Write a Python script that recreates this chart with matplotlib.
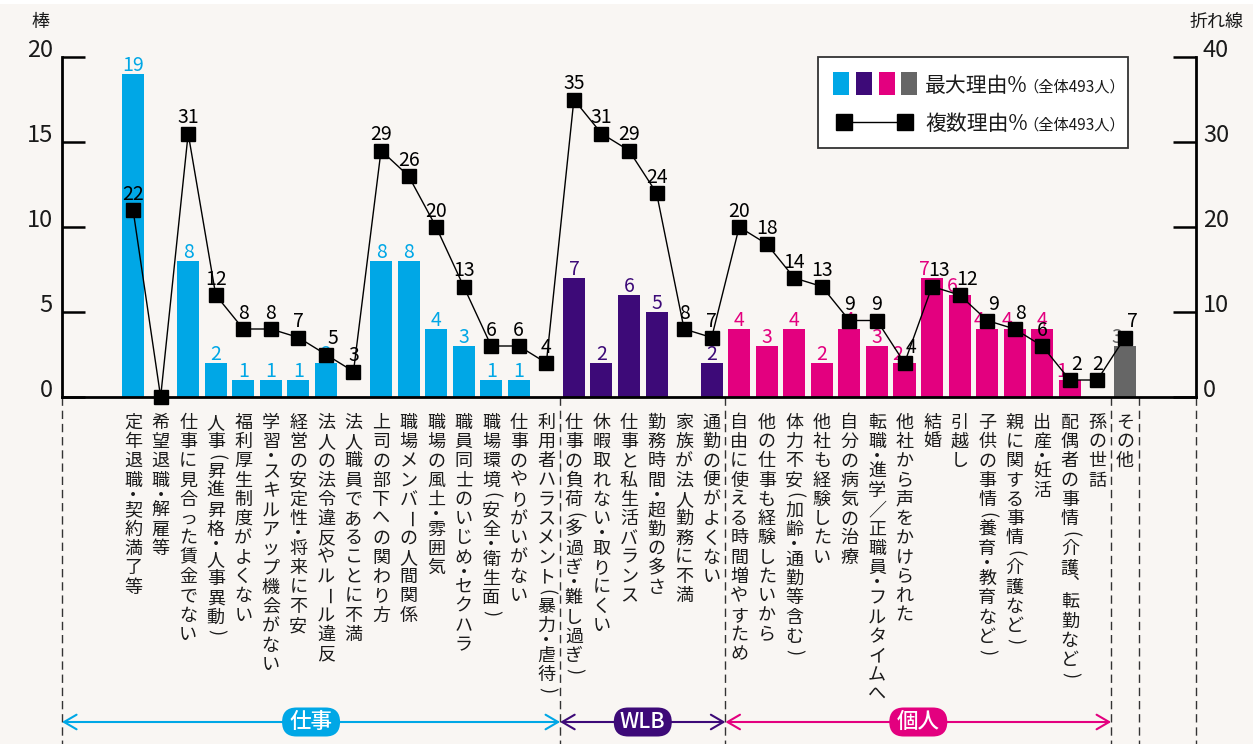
import matplotlib
matplotlib.use('Agg')
import matplotlib.pyplot as plt
from matplotlib.patches import Rectangle, FancyBboxPatch
from matplotlib.lines import Line2D
import matplotlib.transforms as mtransforms

plt.rcParams['font.family'] = ['Noto Sans CJK JP', 'DejaVu Sans']

# ---------------- data ----------------
categories = [
    '定年退職・契約満了等', '希望退職・解雇等', '仕事に見合った賃金でない', '人事（昇進昇格・人事異動）',
    '福利厚生制度がよくない', '学習・スキルアップ機会がない', '経営の安定性・将来に不安',
    '法人の法令違反やルール違反', '法人職員であることに不満', '上司の部下への関わり方',
    '職場メンバーの人間関係', '職場の風土・雰囲気', '職員同士のいじめ・セクハラ',
    '職場環境（安全・衛生面）', '仕事のやりがいがない', '利用者ハラスメント（暴力・虐待）',
    '仕事の負荷（多過ぎ・難し過ぎ）', '休暇取れない・取りにくい', '仕事と私生活バランス',
    '勤務時間・超勤の多さ', '家族が法人勤務に不満', '通勤の便がよくない',
    '自由に使える時間増やすため', '他の仕事も経験したいから', '体力不安（加齢・通勤等含む）',
    '他社も経験したい', '自分の病気の治療', '転職・進学／正職員・フルタイムへ',
    '他社から声をかけられた', '結婚', '引越し', '子供の事情（養育・教育など）',
    '親に関する事情（介護など）', '出産・妊活', '配偶者の事情（介護、転勤など）', '孫の世話',
    'その他',
]
main_pct = [19, 0, 8, 2, 1, 1, 1, 2, 0, 8, 8, 4, 3, 1, 1, 0,
            7, 2, 6, 5, 0, 2,
            4, 3, 4, 2, 4, 3, 2, 7, 6, 4, 4, 4, 1, 0,
            3]
multi_pct = [22, 0, 31, 12, 8, 8, 7, 5, 3, 29, 26, 20, 13, 6, 6, 4,
             35, 31, 29, 24, 8, 7,
             20, 18, 14, 13, 9, 9, 4, 13, 12, 9, 8, 6, 2, 2,
             7]
group_of = ['仕事'] * 16 + ['WLB'] * 6 + ['個人'] * 14 + ['その他']
group_colors = {'仕事': '#00a7e6', 'WLB': '#3d0a78', '個人': '#e3007f', 'その他': '#666666'}
arrow_groups = ['仕事', 'WLB', '個人']
left_ticks = [0, 5, 10, 15, 20]
right_ticks = [0, 10, 20, 30, 40]
legend_main = '最大理由%'
legend_multi = '複数理由%'
legend_note = '（全体493人）'

# label nudges (pixels) to keep bar / line labels apart, as in the original
bar_label_dx = {28: -7, 29: -8, 30: -7, 31: -8, 32: -8, 34: -8, 36: -8}
line_label_dx = {7: 7, 28: 6, 29: 7, 30: 8, 31: 6, 32: 6, 34: 7, 36: 7}

# ---------------- figure ----------------
W, H = 1256, 744
fig = plt.figure(figsize=(W / 100, H / 100), dpi=100)
fig.patch.set_facecolor('white')
fig.add_artist(Rectangle((0, 0), 1253 / W, 740 / H, transform=fig.transFigure,
                         facecolor='#f9f6f3', edgecolor='none', zorder=-10))


def fx(px):
    return px / W


def fy(py):
    return 1 - py / H


TXT = '#1a1a1a'
ax = fig.add_axes([fx(62), fy(397), (1196 - 62) / W, (397 - 57) / H])
ax.set_facecolor('none')
n = len(categories)
xs = list(range(n))
colors = [group_colors[g] for g in group_of]
ax.bar(xs, main_pct, width=0.8, color=colors, zorder=2)
ax.set_xlim(-2.58, n - 1 + 2.58)
ax.set_ylim(0, 20)
ax.set_yticks(left_ticks)

for i, v in enumerate(main_pct):
    if v > 0:
        ax.annotate(str(v), xy=(i, v), xytext=(bar_label_dx.get(i, 0) * 0.72, 2.2),
                    textcoords='offset points', ha='center', va='baseline',
                    color=colors[i], fontsize=14, zorder=3)

ax2 = ax.twinx()
ax2.set_ylim(0, 40)
ax2.set_yticks(right_ticks)
ax2.plot(xs, multi_pct, color='black', lw=1.0, marker='s', ms=9.4, mfc='black',
         mec='black', clip_on=False, zorder=4)
for i, v in enumerate(multi_pct):
    if v > 0:
        ax2.annotate(str(v), xy=(i, v), xytext=(line_label_dx.get(i, 0) * 0.72, 7.5),
                     textcoords='offset points', ha='center', va='baseline',
                     color='black', fontsize=14, zorder=5)

for s in ['top', 'right']:
    ax.spines[s].set_visible(False)
for s in ['top', 'left', 'bottom']:
    ax2.spines[s].set_visible(False)
for sp in [ax.spines['left'], ax.spines['bottom'], ax2.spines['right']]:
    sp.set_linewidth(2.0)
    sp.set_color('black')

ax.tick_params(axis='x', bottom=False, labelbottom=False)
ax2.tick_params(axis='x', bottom=False, labelbottom=False, top=False)
ax.tick_params(axis='y', direction='in', length=16.5, width=1.8, labelsize=17, pad=6.5,
               colors='black', labelcolor=TXT)
ax2.tick_params(axis='y', direction='in', length=16.5, width=1.8, labelsize=17, pad=5,
                colors='black', labelcolor=TXT)
for lbl in ax.get_yticklabels() + ax2.get_yticklabels():
    lbl.set_va('baseline')

# axis titles
fig.text(fx(40), fy(22), '棒', ha='center', va='center', fontsize=13, color=TXT)
fig.text(fx(1217), fy(22), '折れ線', ha='center', va='center', fontsize=13, color=TXT)

# ---------------- vertical category labels ----------------
rot_chars = {'（': '(', '）': ')', 'ー': 'ー'}
sub_chars = {'、': '︑'}
char_weight = {'・': 0.55, '（': 0.55, '）': 0.55, '、': 0.75}
pitch = 19.3
xtrans = ax.get_xaxis_transform()
for i, lab in enumerate(categories):
    pos = 16.0
    for ch in lab:
        w = char_weight.get(ch, 1.0)
        c = pos + w * pitch / 2
        pos += w * pitch
        if ch in rot_chars:
            t, rot = rot_chars[ch], -90
        else:
            t, rot = sub_chars.get(ch, ch), 0
        ax.annotate(t, xy=(i, 0), xycoords=xtrans, xytext=(0, -c * 0.72),
                    textcoords='offset points', ha='center', va='center',
                    rotation=rot, fontsize=13, color=TXT, annotation_clip=False)

# ---------------- dashed separators ----------------
blend = mtransforms.blended_transform_factory(ax.transData, fig.transFigure)
xlo, xhi = ax.get_xlim()
bounds = [xlo]
for k in range(1, n):
    if group_of[k] != group_of[k - 1]:
        bounds.append(k - 0.5)
bounds.append(n - 0.5)
bounds.append(xhi)
for b in bounds:
    ax.add_line(Line2D([b, b], [fy(397), 0], transform=blend, color='#333333', lw=1.0,
                       linestyle=(0, (6, 3.5)), clip_on=False))

# ---------------- group arrows ----------------
ya = fy(722)
for g in arrow_groups:
    idx = [k for k in range(n) if group_of[k] == g]
    s = xlo if idx[0] == 0 else idx[0] - 0.5
    e = idx[-1] + 0.5
    col = group_colors[g]
    ax.annotate('', xy=(e, ya), xytext=(s, ya), xycoords=blend, textcoords=blend,
                arrowprops=dict(arrowstyle='<->,head_length=0.6,head_width=0.35', color=col,
                                lw=1.5, shrinkA=0, shrinkB=0, mutation_scale=15),
                annotation_clip=False)
    xm = ax.transData.transform((((s + e) / 2), 0))[0]
    pill = FancyBboxPatch((xm - 29, 22 - 14.5), 58, 29,
                          boxstyle='round,pad=0,rounding_size=14.5',
                          transform=mtransforms.IdentityTransform(),
                          facecolor=col, edgecolor='none', zorder=6)
    fig.add_artist(pill)
    fig.text(xm / W, 22.5 / H, g, ha='center', va='center', color='white', fontsize=15.5,
             fontweight='medium', zorder=7)

# ---------------- legend ----------------
fig.add_artist(Rectangle((fx(818), fy(148)), 310 / W, 91 / H, transform=fig.transFigure,
                         facecolor='white', edgecolor='#333333', lw=1.3, zorder=8))
for j, g in enumerate(['仕事', 'WLB', '個人', 'その他']):
    x0 = [833, 856, 879, 901][j]
    fig.add_artist(Rectangle((fx(x0), fy(95)), 16 / W, 23 / H, transform=fig.transFigure,
                             facecolor=group_colors[g], edgecolor='none', zorder=9))
fig.add_artist(Line2D([fx(844), fx(905)], [fy(122), fy(122)], transform=fig.transFigure,
                      color='black', lw=1.0, marker='s', ms=11.5, zorder=9))
fig.text(fx(925), fy(92), legend_main, ha='left', va='baseline', fontsize=15, color=TXT, zorder=9)
fig.text(fx(1023), fy(92), legend_note, ha='left', va='baseline', fontsize=11, color=TXT, zorder=9)
fig.text(fx(925), fy(130), legend_multi, ha='left', va='baseline', fontsize=15, color=TXT, zorder=9)
fig.text(fx(1023), fy(130), legend_note, ha='left', va='baseline', fontsize=11, color=TXT, zorder=9)

fig.savefig('out.png', dpi=100, facecolor=fig.get_facecolor())
